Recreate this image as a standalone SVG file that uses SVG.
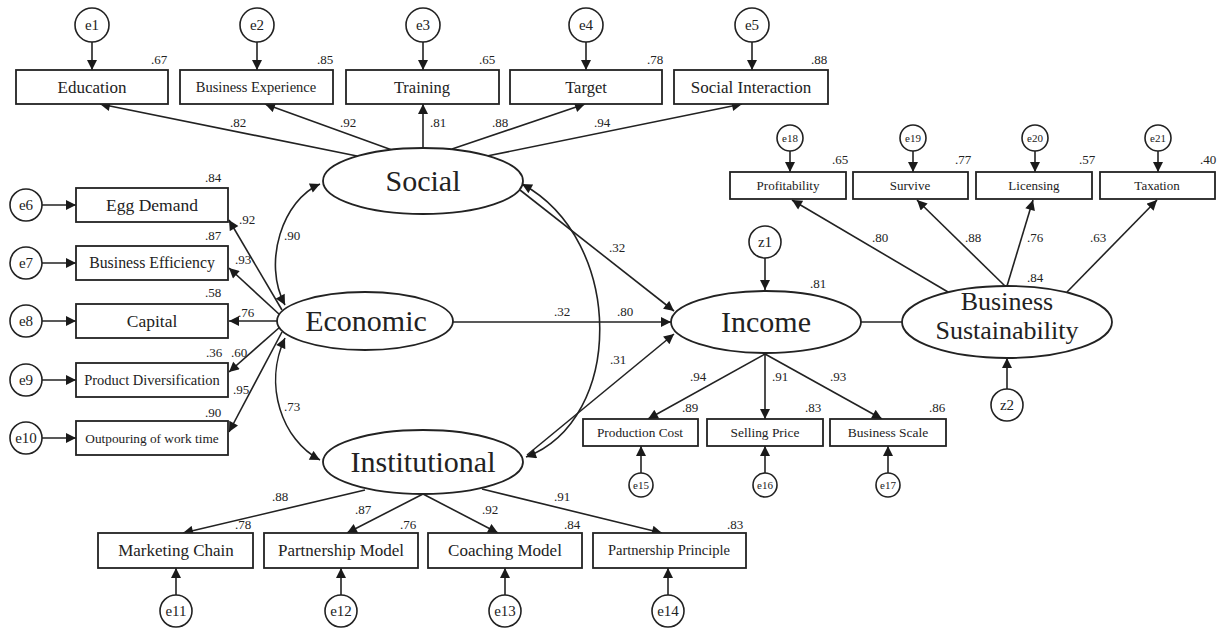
<svg xmlns="http://www.w3.org/2000/svg" width="1220" height="628" viewBox="0 0 1220 628">
<defs>
<marker id="ah" viewBox="0 0 10 10" refX="10" refY="5" markerWidth="11" markerHeight="10" markerUnits="userSpaceOnUse" orient="auto-start-reverse">
<path d="M0,0 L10,5 L0,10 z" fill="#1a1a1a"/>
</marker>
<style>
.box{fill:#fff;stroke:#222;stroke-width:1.8}
.lat{fill:#fff;stroke:#222;stroke-width:1.8}
.err{fill:#fff;stroke:#222;stroke-width:1.6}
.ln{fill:none;stroke:#222;stroke-width:1.6}
.a{marker-end:url(#ah)}
.b{marker-start:url(#ah);marker-end:url(#ah)}
text{font-family:"Liberation Serif","Times New Roman",serif;fill:#222;text-anchor:middle}
.big{font-size:30px}
.bs{font-size:26px}
.et{font-size:15px}
.es{font-size:11px}
.v{font-size:13px}
</style>
</defs>

<g id="connectors">
<line class="ln a" x1="92" y1="42" x2="92" y2="70"/>
<line class="ln a" x1="257" y1="42" x2="257" y2="70"/>
<line class="ln a" x1="423" y1="42" x2="423" y2="70"/>
<line class="ln a" x1="586" y1="42" x2="586" y2="70"/>
<line class="ln a" x1="752" y1="42" x2="752" y2="70"/>
<line class="ln a" x1="357" y1="156" x2="100" y2="104"/>
<line class="ln a" x1="392" y1="150" x2="265" y2="104"/>
<line class="ln a" x1="423" y1="148" x2="423" y2="104"/>
<line class="ln a" x1="452" y1="149" x2="585" y2="104"/>
<line class="ln a" x1="487" y1="156" x2="742" y2="104"/>
<line class="ln a" x1="42" y1="205" x2="76" y2="205"/>
<line class="ln a" x1="42" y1="263" x2="76" y2="263"/>
<line class="ln a" x1="42" y1="321" x2="76" y2="321"/>
<line class="ln a" x1="42" y1="380" x2="76" y2="380"/>
<line class="ln a" x1="42" y1="438" x2="76" y2="438"/>
<line class="ln a" x1="282" y1="310" x2="229" y2="220"/>
<line class="ln a" x1="280" y1="315" x2="229" y2="268"/>
<line class="ln a" x1="278" y1="321" x2="229" y2="321"/>
<line class="ln a" x1="280" y1="327" x2="229" y2="372"/>
<line class="ln a" x1="282" y1="332" x2="229" y2="432"/>
<path class="ln b" d="M320,184 C283,200 262,262 285,305"/>
<path class="ln b" d="M285,338 C263,385 282,440 320,460"/>
<path class="ln b" d="M522,184 C625,240 625,420 526,457"/>
<line class="ln a" x1="520" y1="190" x2="674" y2="311"/>
<line class="ln a" x1="453" y1="322" x2="671" y2="322"/>
<line class="ln a" x1="527" y1="455" x2="674" y2="334"/>
<line class="ln" x1="861" y1="322" x2="902" y2="322"/>
<line class="ln a" x1="765" y1="258" x2="765" y2="290"/>
<line class="ln a" x1="1007" y1="389" x2="1007" y2="358"/>
<line class="ln a" x1="765" y1="354" x2="648" y2="419"/>
<line class="ln a" x1="765" y1="354" x2="765" y2="419"/>
<line class="ln a" x1="765" y1="354" x2="882" y2="419"/>
<line class="ln a" x1="641" y1="473" x2="641" y2="446"/>
<line class="ln a" x1="765" y1="473" x2="765" y2="446"/>
<line class="ln a" x1="888" y1="473" x2="888" y2="446"/>
<line class="ln a" x1="948" y1="292" x2="792" y2="200"/>
<line class="ln a" x1="1005" y1="286" x2="917" y2="200"/>
<line class="ln a" x1="1007" y1="286" x2="1033" y2="200"/>
<line class="ln a" x1="1067" y1="292" x2="1157" y2="200"/>
<line class="ln a" x1="790" y1="151" x2="790" y2="172"/>
<line class="ln a" x1="913" y1="151" x2="913" y2="172"/>
<line class="ln a" x1="1035" y1="151" x2="1035" y2="172"/>
<line class="ln a" x1="1158" y1="151" x2="1158" y2="172"/>
<line class="ln a" x1="365" y1="490" x2="183" y2="533"/>
<line class="ln a" x1="423" y1="494" x2="347" y2="533"/>
<line class="ln a" x1="423" y1="494" x2="498" y2="533"/>
<line class="ln a" x1="482" y1="489" x2="662" y2="533"/>
<line class="ln a" x1="176" y1="596" x2="176" y2="568"/>
<line class="ln a" x1="341" y1="596" x2="341" y2="568"/>
<line class="ln a" x1="505" y1="596" x2="505" y2="568"/>
<line class="ln a" x1="668" y1="596" x2="668" y2="568"/>
</g>

<g id="labels">
<text class="v" x="159" y="64">.67</text>
<text class="v" x="325" y="64">.85</text>
<text class="v" x="487" y="64">.65</text>
<text class="v" x="655" y="64">.78</text>
<text class="v" x="819" y="64">.88</text>
<text class="v" x="238" y="127">.82</text>
<text class="v" x="348" y="127">.92</text>
<text class="v" x="438" y="127">.81</text>
<text class="v" x="500" y="127">.88</text>
<text class="v" x="602" y="127">.94</text>
<text class="v" x="213" y="182">.84</text>
<text class="v" x="213" y="240">.87</text>
<text class="v" x="213" y="297">.58</text>
<text class="v" x="214" y="357">.36</text>
<text class="v" x="239" y="357">.60</text>
<text class="v" x="213" y="417">.90</text>
<text class="v" x="247" y="224">.92</text>
<text class="v" x="243" y="264">.93</text>
<text class="v" x="246" y="317">.76</text>
<text class="v" x="241" y="394">.95</text>
<text class="v" x="292" y="240">.90</text>
<text class="v" x="292" y="411">.73</text>
<text class="v" x="617" y="252">.32</text>
<text class="v" x="562" y="316">.32</text>
<text class="v" x="625" y="316">.80</text>
<text class="v" x="618" y="364">.31</text>
<text class="v" x="818" y="288">.81</text>
<text class="v" x="1035" y="282">.84</text>
<text class="v" x="880" y="242">.80</text>
<text class="v" x="973" y="242">.88</text>
<text class="v" x="1035" y="242">.76</text>
<text class="v" x="1098" y="242">.63</text>
<text class="v" x="840" y="164">.65</text>
<text class="v" x="963" y="164">.77</text>
<text class="v" x="1087" y="164">.57</text>
<text class="v" x="1208" y="164">.40</text>
<text class="v" x="698" y="381">.94</text>
<text class="v" x="780" y="381">.91</text>
<text class="v" x="838" y="381">.93</text>
<text class="v" x="690" y="412">.89</text>
<text class="v" x="813" y="412">.83</text>
<text class="v" x="937" y="412">.86</text>
<text class="v" x="280" y="501">.88</text>
<text class="v" x="243" y="529">.78</text>
<text class="v" x="363" y="514">.87</text>
<text class="v" x="408" y="529">.76</text>
<text class="v" x="490" y="514">.92</text>
<text class="v" x="572" y="529">.84</text>
<text class="v" x="562" y="501">.91</text>
<text class="v" x="735" y="529">.83</text>
</g>

<g id="social"><ellipse class="lat" cx="423" cy="181" rx="100" ry="33"/><text class="big" x="423" y="191">Social</text></g>
<g id="economic"><ellipse class="lat" cx="365" cy="321" rx="88" ry="29"/><text class="big" x="366" y="331">Economic</text></g>
<g id="institutional"><ellipse class="lat" cx="423" cy="462" rx="100" ry="32"/><text class="big" x="423" y="472">Institutional</text></g>
<g id="income"><ellipse class="lat" cx="766" cy="322" rx="95" ry="31"/><text class="big" x="766" y="332">Income</text></g>
<g id="business-sustainability"><ellipse class="lat" cx="1007" cy="322" rx="105" ry="36"/><text class="bs" x="1007" y="310">Business</text><text class="bs" x="1007" y="339">Sustainability</text></g>

<g id="education"><rect class="box" x="16" y="70" width="152" height="34"/><text x="92" y="93" font-size="17">Education</text></g>
<g id="business-experience"><rect class="box" x="180" y="70" width="153" height="34"/><text x="256" y="92" font-size="14.5">Business Experience</text></g>
<g id="training"><rect class="box" x="346" y="70" width="153" height="34"/><text x="422" y="93" font-size="16.5">Training</text></g>
<g id="target"><rect class="box" x="510" y="70" width="152" height="34"/><text x="586" y="93" font-size="16.5">Target</text></g>
<g id="social-interaction"><rect class="box" x="674" y="70" width="154" height="34"/><text x="751" y="93" font-size="17">Social Interaction</text></g>
<g id="e1"><circle class="err" cx="92" cy="25" r="17"/><text class="et" x="92" y="30">e1</text></g>
<g id="e2"><circle class="err" cx="257" cy="25" r="17"/><text class="et" x="257" y="30">e2</text></g>
<g id="e3"><circle class="err" cx="423" cy="25" r="17"/><text class="et" x="423" y="30">e3</text></g>
<g id="e4"><circle class="err" cx="586" cy="25" r="17"/><text class="et" x="586" y="30">e4</text></g>
<g id="e5"><circle class="err" cx="752" cy="25" r="17"/><text class="et" x="752" y="30">e5</text></g>

<g id="egg-demand"><rect class="box" x="76" y="188" width="152" height="34"/><text x="152" y="211" font-size="17.5">Egg Demand</text></g>
<g id="business-efficiency"><rect class="box" x="76" y="246" width="152" height="34"/><text x="152" y="268" font-size="15.8">Business Efficiency</text></g>
<g id="capital"><rect class="box" x="76" y="304" width="152" height="34"/><text x="152" y="327" font-size="17.5">Capital</text></g>
<g id="product-diversification"><rect class="box" x="76" y="363" width="152" height="34"/><text x="152" y="385" font-size="14.5">Product Diversification</text></g>
<g id="outpouring-of-work-time"><rect class="box" x="76" y="421" width="152" height="34"/><text x="152" y="443" font-size="13.3">Outpouring of work time</text></g>
<g id="e6"><circle class="err" cx="26" cy="205" r="16"/><text class="et" x="26" y="210">e6</text></g>
<g id="e7"><circle class="err" cx="26" cy="263" r="16"/><text class="et" x="26" y="268">e7</text></g>
<g id="e8"><circle class="err" cx="26" cy="321" r="16"/><text class="et" x="26" y="326">e8</text></g>
<g id="e9"><circle class="err" cx="26" cy="380" r="16"/><text class="et" x="26" y="385">e9</text></g>
<g id="e10"><circle class="err" cx="26" cy="438" r="16"/><text class="et" x="26" y="443">e10</text></g>

<g id="profitability"><rect class="box" x="730" y="172" width="116" height="27"/><text x="788" y="190" font-size="13">Profitability</text></g>
<g id="survive"><rect class="box" x="853" y="172" width="115" height="27"/><text x="910" y="190" font-size="13">Survive</text></g>
<g id="licensing"><rect class="box" x="976" y="172" width="116" height="27"/><text x="1034" y="190" font-size="13">Licensing</text></g>
<g id="taxation"><rect class="box" x="1100" y="172" width="115" height="27"/><text x="1157" y="190" font-size="13">Taxation</text></g>
<g id="e18"><circle class="err" cx="790" cy="138" r="13"/><text class="es" x="790" y="142">e18</text></g>
<g id="e19"><circle class="err" cx="913" cy="138" r="13"/><text class="es" x="913" y="142">e19</text></g>
<g id="e20"><circle class="err" cx="1035" cy="138" r="13"/><text class="es" x="1035" y="142">e20</text></g>
<g id="e21"><circle class="err" cx="1158" cy="138" r="13"/><text class="es" x="1158" y="142">e21</text></g>
<g id="z1"><circle class="err" cx="765" cy="242" r="16"/><text class="et" x="765" y="247">z1</text></g>
<g id="z2"><circle class="err" cx="1007" cy="405" r="16"/><text class="et" x="1007" y="410">z2</text></g>

<g id="production-cost"><rect class="box" x="583" y="419" width="115" height="27"/><text x="640" y="437" font-size="13.3">Production Cost</text></g>
<g id="selling-price"><rect class="box" x="707" y="419" width="116" height="27"/><text x="765" y="437" font-size="13.4">Selling Price</text></g>
<g id="business-scale"><rect class="box" x="830" y="419" width="116" height="27"/><text x="888" y="437" font-size="13.5">Business Scale</text></g>
<g id="e15"><circle class="err" cx="641" cy="485" r="12"/><text class="es" x="641" y="489">e15</text></g>
<g id="e16"><circle class="err" cx="765" cy="485" r="12"/><text class="es" x="765" y="489">e16</text></g>
<g id="e17"><circle class="err" cx="888" cy="485" r="12"/><text class="es" x="888" y="489">e17</text></g>

<g id="marketing-chain"><rect class="box" x="98" y="533" width="155" height="35"/><text x="176" y="556" font-size="17">Marketing Chain</text></g>
<g id="partnership-model"><rect class="box" x="264" y="533" width="154" height="35"/><text x="341" y="556" font-size="17">Partnership Model</text></g>
<g id="coaching-model"><rect class="box" x="428" y="533" width="154" height="35"/><text x="505" y="556" font-size="17">Coaching Model</text></g>
<g id="partnership-principle"><rect class="box" x="593" y="533" width="153" height="35"/><text x="669" y="555" font-size="14.5">Partnership Principle</text></g>
<g id="e11"><circle class="err" cx="176" cy="611" r="16"/><text class="et" x="176" y="616">e11</text></g>
<g id="e12"><circle class="err" cx="341" cy="611" r="16"/><text class="et" x="341" y="616">e12</text></g>
<g id="e13"><circle class="err" cx="505" cy="611" r="16"/><text class="et" x="505" y="616">e13</text></g>
<g id="e14"><circle class="err" cx="668" cy="611" r="16"/><text class="et" x="668" y="616">e14</text></g>
</svg>
